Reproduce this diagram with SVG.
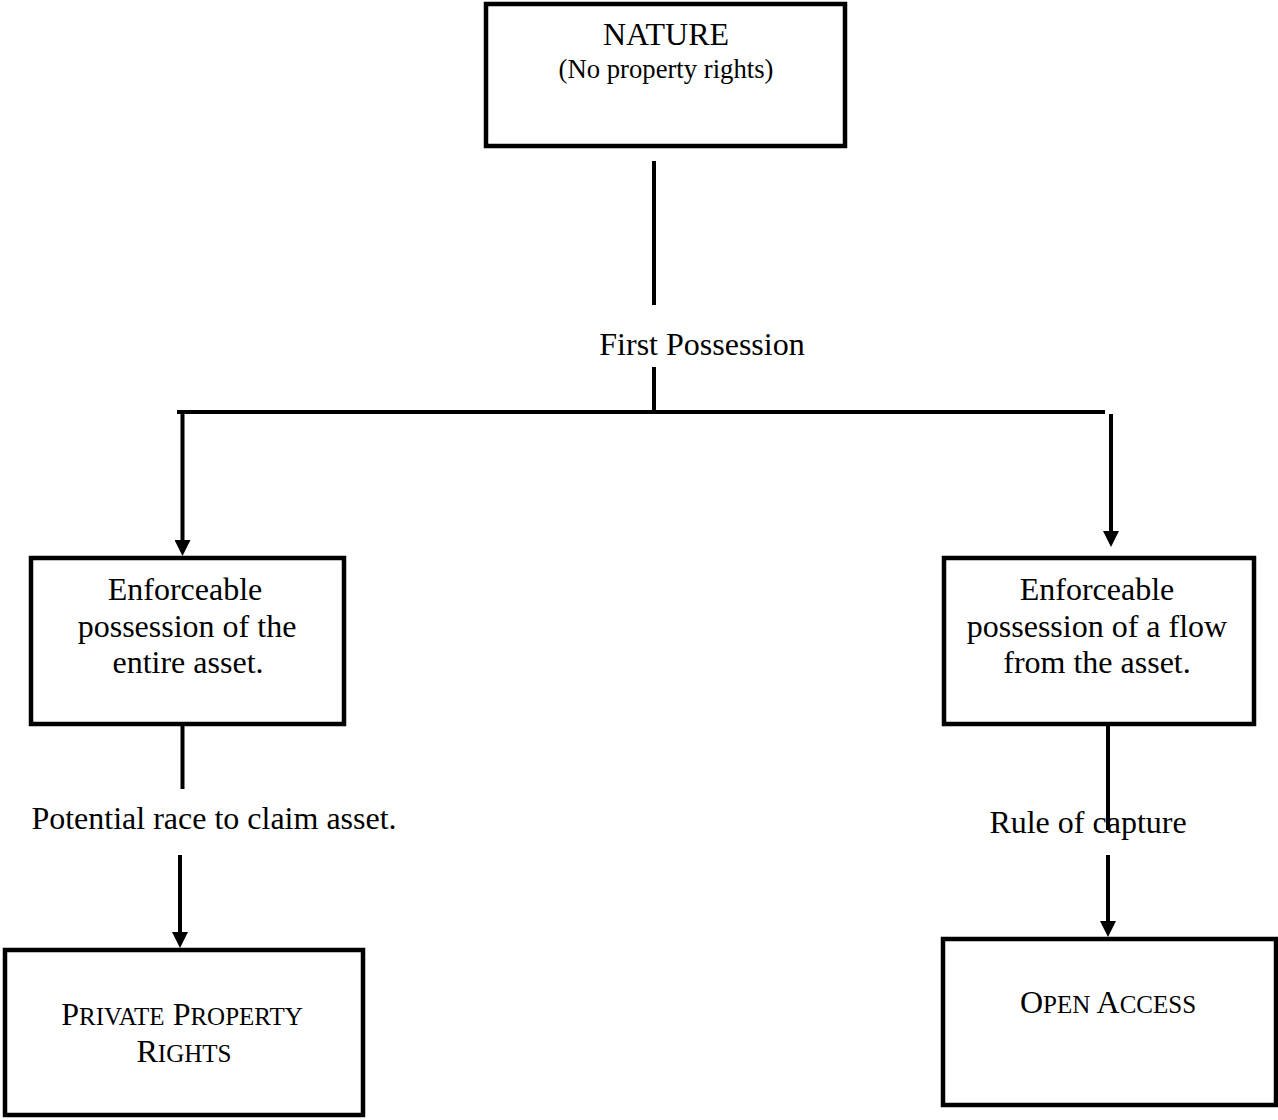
<svg xmlns="http://www.w3.org/2000/svg" width="1278" height="1120" viewBox="0 0 1278 1120">
<style>
.box{fill:#fff;stroke:#000;stroke-width:4.5}
.ln{stroke:#000;stroke-width:4;fill:none}
.t{font-family:"Liberation Serif","Times New Roman",serif;font-size:32px;fill:#000;text-anchor:middle}
.s{font-size:26.7px}
.sc{font-size:25px}
</style>
<defs>
<marker id="ah" markerUnits="userSpaceOnUse" markerWidth="16" markerHeight="16" viewBox="0 0 16 16" refX="6" refY="8" orient="auto">
<path d="M0,0 L16,8 L0,16 Z" fill="#000"/>
</marker>
</defs>
<rect width="1278" height="1120" fill="#fff"/>
<g id="connectors">
<line class="ln" x1="654" y1="161" x2="654" y2="305"/>
<line class="ln" x1="654" y1="367" x2="654" y2="412"/>
<line class="ln" x1="177" y1="412" x2="1105" y2="412"/>
<line class="ln" x1="182.5" y1="410" x2="182.5" y2="546" marker-end="url(#ah)"/>
<line class="ln" x1="1111" y1="414" x2="1111" y2="537" marker-end="url(#ah)"/>
<line class="ln" x1="182.5" y1="724" x2="182.5" y2="789"/>
<line class="ln" x1="180" y1="855" x2="180" y2="938" marker-end="url(#ah)"/>
<line class="ln" x1="1108" y1="724" x2="1108" y2="830"/>
<line class="ln" x1="1108" y1="855" x2="1108" y2="927" marker-end="url(#ah)"/>
<text class="t" x="702" y="355">First Possession</text>
<text class="t" x="214" y="829">Potential race to claim asset.</text>
<text class="t" x="1088" y="833">Rule of capture</text>
</g>
<g id="nature">
<rect class="box" x="486" y="4" width="359" height="142"/>
<text class="t" x="666" y="45">NATURE</text>
<text class="t s" x="666" y="78">(No property rights)</text>
</g>
<g id="entire-asset">
<rect class="box" x="31" y="558" width="313" height="166"/>
<text class="t" x="185" y="600">Enforceable</text>
<text class="t" x="187" y="637">possession of the</text>
<text class="t" x="188" y="673">entire asset.</text>
</g>
<g id="flow-asset">
<rect class="box" x="944" y="558" width="310" height="166"/>
<text class="t" x="1097" y="600">Enforceable</text>
<text class="t" x="1097" y="637">possession of a flow</text>
<text class="t" x="1097" y="673">from the asset.</text>
</g>
<g id="private-property">
<rect class="box" x="5" y="950" width="358" height="165"/>
<text class="t" x="182" y="1025">P<tspan class="sc">RIVATE</tspan> P<tspan class="sc">ROPERTY</tspan></text>
<text class="t" x="184" y="1062">R<tspan class="sc">IGHTS</tspan></text>
</g>
<g id="open-access">
<rect class="box" x="943" y="939" width="333" height="166"/>
<text class="t" x="1108" y="1013">O<tspan class="sc">PEN</tspan> A<tspan class="sc">CCESS</tspan></text>
</g>
</svg>
